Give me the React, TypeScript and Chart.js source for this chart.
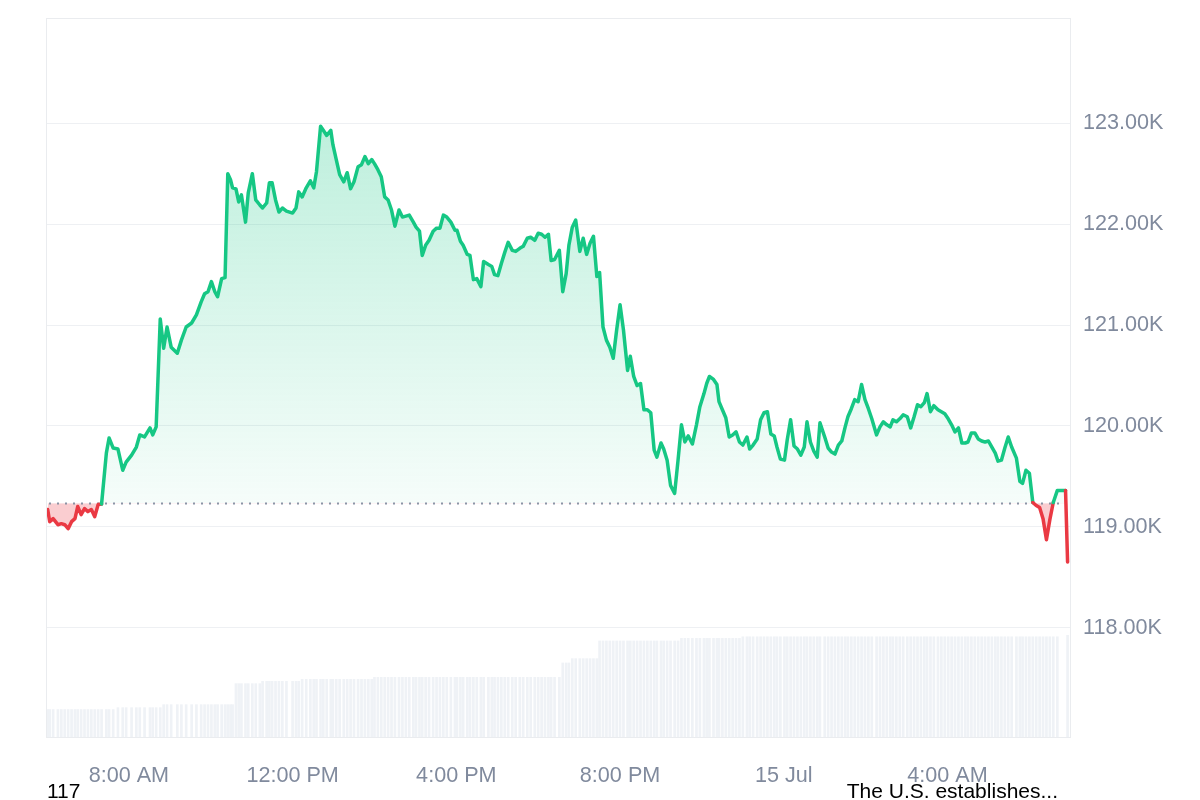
import React, { useEffect, useRef } from 'react';
import { Chart, registerables } from 'chart.js';

Chart.register(...registerables);

// minutes after 06:00 (14 Jul)
const TIMES: number[] = [
  1, 4, 9, 16, 21, 26, 31, 36, 41, 45,
  50, 55, 60, 65, 70, 75, 80, 87, 91, 97,
  104, 111, 116, 124, 131, 136, 143, 151, 155, 160,
  166, 171, 176, 182, 191, 197, 204, 212, 219, 226,
  231, 236, 241, 246, 250, 256, 261, 265, 269, 272,
  277, 281, 285, 291, 295, 301, 306, 312, 316, 322,
  326, 330, 335, 340, 345, 351, 360, 365, 369, 374,
  380, 386, 391, 395, 401, 405, 410, 416, 419, 424,
  429, 435, 440, 445, 450, 456, 461, 466, 471, 476,
  480, 485, 490, 495, 500, 505, 510, 516, 521, 526,
  531, 537, 541, 546, 550, 555, 560, 566, 571, 576,
  581, 586, 592, 598, 601, 606, 610, 616, 620, 625,
  630, 636, 640, 647, 652, 656, 661, 666, 671, 676,
  682, 687, 693, 698, 704, 709, 715, 720, 725, 730,
  735, 739, 744, 751, 756, 761, 765, 770, 775, 781,
  786, 791, 796, 801, 806, 810, 815, 820, 825, 830,
  835, 840, 845, 851, 855, 860, 865, 870, 875, 880,
  885, 890, 894, 900, 904, 909, 914, 920, 925, 930,
  935, 940, 946, 952, 957, 963, 967, 971, 977, 982,
  985, 990, 995, 1000, 1005, 1010, 1015, 1020, 1026, 1030,
  1035, 1041, 1046, 1051, 1056, 1061, 1066, 1070, 1075, 1081,
  1085, 1090, 1095, 1100, 1105, 1110, 1114, 1119, 1124, 1129,
  1133, 1140, 1145, 1150, 1155, 1160, 1165, 1170, 1174, 1179,
  1184, 1189, 1194, 1199, 1204, 1209, 1216, 1221, 1226, 1231,
  1236, 1240, 1245, 1250, 1255, 1261, 1266, 1271, 1276, 1281,
  1286, 1290, 1295, 1300, 1306, 1311, 1316, 1321, 1326, 1331,
  1336, 1341, 1346, 1350, 1355, 1360, 1365, 1370, 1375, 1380,
  1385, 1390, 1394, 1399, 1404, 1409, 1414, 1421, 1426, 1430,
  1435, 1440, 1445, 1450, 1455, 1460, 1465, 1470, 1475, 1481,
  1487, 1493, 1496,
];

const PRICES: number[] = [
  119170, 119050, 119080, 119020, 119030, 119020, 118980, 119050, 119080, 119200,
  119120, 119180, 119150, 119170, 119100, 119220, 119225, 119730, 119880, 119780,
  119770, 119560, 119640, 119710, 119790, 119910, 119890, 119980, 119910, 119990,
  121060, 120770, 120980, 120780, 120720, 120850, 120980, 121020, 121100, 121230,
  121310, 121330, 121430, 121330, 121280, 121460, 121470, 122500, 122440, 122360,
  122350, 122220, 122290, 122020, 122310, 122500, 122240, 122190, 122160, 122210,
  122410, 122410, 122240, 122120, 122160, 122130, 122110, 122160, 122320, 122270,
  122360, 122430, 122360, 122520, 122970, 122930, 122880, 122930, 122790, 122640,
  122490, 122420, 122510, 122350, 122420, 122570, 122590, 122670, 122600, 122640,
  122600, 122540, 122470, 122270, 122240, 122140, 121980, 122140, 122070, 122080,
  122090, 122020, 121970, 121930, 121690, 121790, 121840, 121930, 121960, 121960,
  122090, 122070, 122020, 121940, 121940, 121830, 121790, 121700, 121690, 121450,
  121460, 121380, 121630, 121600, 121580, 121500, 121490, 121610, 121720, 121820,
  121740, 121730, 121760, 121780, 121860, 121870, 121840, 121910, 121900, 121870,
  121900, 121640, 121650, 121740, 121330, 121510, 121790, 121970, 122040, 121730,
  121860, 121700, 121810, 121880, 121480, 121520, 120980, 120850, 120780, 120670,
  120950, 121200, 120950, 120550, 120690, 120490, 120400, 120420, 120160, 120160,
  120130, 119760, 119690, 119830, 119770, 119660, 119410, 119330, 119660, 120010,
  119840, 119900, 119820, 120010, 120190, 120320, 120420, 120490, 120460, 120410,
  120240, 120160, 120080, 119890, 119910, 119940, 119840, 119810, 119890, 119770,
  119810, 119870, 120060, 120130, 120140, 119920, 119900, 119790, 119670, 119660,
  119860, 120060, 119800, 119770, 119710, 119790, 120040, 119840, 119750, 119690,
  120030, 119890, 119780, 119740, 119720, 119810, 119850, 119990, 120090, 120170,
  120260, 120240, 120410, 120260, 120170, 120070, 119910, 119990, 120040, 120010,
  119990, 120060, 120040, 120070, 120110, 120090, 119980, 120090, 120210, 120190,
  120230, 120320, 120140, 120200, 120160, 120140, 120120, 120070, 120010, 119940,
  119980, 119830, 119830, 119840, 119930, 119930, 119870, 119850, 119840, 119850,
  119790, 119730, 119650, 119660, 119780, 119890, 119790, 119680, 119450, 119430,
  119560, 119530, 119240, 119210, 119190, 119080, 118870, 119070, 119240, 119360,
  119360, 119360, 118650,
];

// 24h volume, $B
const VOLUMES: (number | null)[] = [
  19.1, 19.1, 19.1, 19.1, 19.1, 19.1, 19.1, 19.1, 19.1, 19.1,
  19.1, 19.1, 19.1, 19.1, 19.1, 19.1, 19.1, 19.1, 19.1, 19.1,
  20.4, 20.4, 20.4, 20.4, 20.4, 20.4, 20.4, 20.4, 20.4, 20.4,
  20.4, 22.5, 22.5, 22.5, 22.5, 22.5, 22.5, 22.5, 22.5, 22.5,
  22.5, 22.5, 22.5, 22.5, 22.5, 22.5, 22.5, 22.5, 22.5, 22.5,
  37.1, 37.1, 37.1, 37.1, 37.1, 37.1, 37.1, 37.1, 38.7, 38.7,
  38.7, 38.7, 38.7, 38.7, 38.7, 38.7, 38.7, 38.7, 38.7, 40.1,
  40.1, 40.1, 40.1, 40.1, 40.1, 40.1, 40.1, 40.1, 40.1, 40.1,
  40.1, 40.1, 40.1, 40.1, 40.1, 40.1, 40.1, 40.1, 40.1, 40.1,
  41.5, 41.5, 41.5, 41.5, 41.5, 41.5, 41.5, 41.5, 41.5, 41.5,
  41.5, 41.5, 41.5, 41.5, 41.5, 41.5, 41.5, 41.5, 41.5, 41.5,
  41.5, 41.5, 41.5, 41.5, 41.5, 41.5, 41.5, 41.5, 41.5, 41.5,
  41.5, 41.5, 41.5, 41.5, 41.5, 41.5, 41.5, 41.5, 41.5, 41.5,
  41.5, 41.5, 41.5, 41.5, 41.5, 41.5, 41.5, 41.5, 41.5, 41.5,
  41.5, 41.5, 41.5, 41.5, 51.5, 51.5, 51.5, 54.5, 54.5, 54.5,
  54.5, 54.5, 54.5, 54.5, 54.5, 66.8, 66.8, 66.8, 66.8, 66.8,
  66.8, 66.8, 66.8, 66.8, 66.8, 66.8, 66.8, 66.8, 66.8, 66.8,
  66.8, 66.8, 66.8, 66.8, 66.8, 66.8, 66.8, 66.8, 66.8, 68.6,
  68.6, 68.6, 68.6, 68.6, 68.6, 68.6, 68.6, 68.6, 68.6, 68.6,
  68.6, 68.6, 68.6, 68.6, 68.6, 68.6, 68.6, 69.7, 69.7, 69.7,
  69.7, 69.7, 69.7, 69.7, 69.7, 69.7, 69.7, 69.7, 69.7, 69.7,
  69.7, 69.7, 69.7, 69.7, 69.7, 69.7, 69.7, 69.7, 69.7, 69.7,
  69.7, 69.7, 69.7, 69.7, 69.7, 69.7, 69.7, 69.7, 69.7, 69.7,
  69.7, 69.7, 69.7, 69.7, 69.7, 69.7, 69.7, 69.7, 69.7, 69.7,
  69.7, 69.7, 69.7, 69.7, 69.7, 69.7, 69.7, 69.7, 69.7, 69.7,
  69.7, 69.7, 69.7, 69.7, 69.7, 69.7, 69.7, 69.7, 69.7, 69.7,
  69.7, 69.7, 69.7, 69.7, 69.7, 69.7, 69.7, 69.7, 69.7, 69.7,
  69.7, 69.7, 69.7, 69.7, 69.7, 69.7, 69.7, 69.7, 69.7, 69.7,
  69.7, 69.7, 69.7, 69.7, 69.7, 69.7, 69.7, 69.7, 69.7, 69.7,
  null, null, 70.7,
];

const BASE_PRICE = 119232;
const X_TICKS = [120, 360, 600, 840, 1080, 1320];
const X_TICK_LABELS = ['8:00 AM', '12:00 PM', '4:00 PM', '8:00 PM', '15 Jul', '4:00 AM'];
const Y_TICKS = [118000, 119000, 120000, 121000, 122000, 123000];
const NEWS_COUNT = '117';
const NEWS_HEADLINE = 'The U.S. establishes...';

const GREEN = '#16c784';
const RED = '#ea3943';
const LABEL_COLOR = '#808a9d';
const FONT_FAMILY = '"Liberation Sans", Arial, Helvetica, sans-serif';

export default function App() {
  const canvasRef = useRef<HTMLCanvasElement | null>(null);

  useEffect(() => {
    const canvas = canvasRef.current;
    if (!canvas) return;

    const framePlugin = {
      id: 'frame',
      beforeDatasetsDraw(chart: any) {
        const { ctx, chartArea: a } = chart;
        ctx.save();
        ctx.strokeStyle = '#eaecef';
        ctx.lineWidth = 1;
        ctx.strokeRect(Math.round(a.left) - 0.5, Math.round(a.top) + 0.5, Math.round(a.right - a.left), Math.round(a.bottom - a.top));
        ctx.restore();
      },
      beforeDatasetDraw(chart: any, args: any) {
        if (args.index !== 0) return;
        const { ctx, chartArea: a, scales } = chart;
        const y = Math.round(scales.y.getPixelForValue(BASE_PRICE)) + 0.5;
        ctx.save();
        ctx.strokeStyle = 'rgba(128,138,157,0.9)';
        ctx.lineWidth = 2;
        ctx.setLineDash([2, 6]);
        ctx.beginPath();
        ctx.moveTo(a.left + 2, y);
        ctx.lineTo(a.right, y);
        ctx.stroke();
        ctx.restore();
      },
    };

    const font = { family: FONT_FAMILY, size: 21.6 };

    const chart = new Chart(canvas, {
      type: 'line',
      data: {
        datasets: [
          {
            type: 'line',
            data: TIMES.map((t, i) => ({ x: t, y: PRICES[i] })),
            xAxisID: 'x',
            yAxisID: 'y',
            borderColor: GREEN,
            borderWidth: 3.5,
            borderJoinStyle: 'round',
            borderCapStyle: 'round',
            pointRadius: 0,
            tension: 0,
            fill: { target: { value: BASE_PRICE }, below: 'rgba(234,57,67,0.25)' },
            backgroundColor: (c: any) => {
              const ch = c.chart;
              if (!ch.chartArea || !ch.scales.y) return 'rgba(22,199,132,0.12)';
              const top = ch.scales.y.getPixelForValue(Math.max(...PRICES));
              const bot = ch.scales.y.getPixelForValue(BASE_PRICE);
              const g = ch.ctx.createLinearGradient(0, top, 0, bot);
              g.addColorStop(0, 'rgba(22,199,132,0.28)');
              g.addColorStop(1, 'rgba(22,199,132,0.04)');
              return g;
            },
            segment: {
              borderColor: (c: any) => ((c.p0.parsed.y + c.p1.parsed.y) / 2 < BASE_PRICE ? RED : GREEN),
            },
          } as any,
          {
            type: 'bar',
            data: TIMES.map((t, i) => ({ x: t, y: VOLUMES[i] })),
            xAxisID: 'x',
            yAxisID: 'yVol',
            backgroundColor: '#eff2f6',
            borderWidth: 0,
            barThickness: 2,
          } as any,
        ],
      },
      options: {
        animation: false,
        responsive: false,
        devicePixelRatio: 1,
        layout: { padding: { left: 47, top: 18, right: 0, bottom: 0 } },
        plugins: { legend: { display: false }, tooltip: { enabled: false } },
        scales: {
          x: {
            type: 'linear',
            offset: false,
            min: 0,
            max: 1501,
            grid: { display: false, offset: false },
            border: { display: false },
            afterBuildTicks: (s: any) => {
              s.ticks = X_TICKS.map((v) => ({ value: v }));
            },
            afterFit: (s: any) => {
              s.height = 63;
              s.paddingLeft = 0;
              s.paddingRight = 0;
            },
            ticks: {
              autoSkip: false,
              maxRotation: 0,
              minRotation: 0,
              padding: 18,
              color: LABEL_COLOR,
              font,
              callback: (v: any) => {
                const i = X_TICKS.indexOf(Number(v));
                return i >= 0 ? X_TICK_LABELS[i] : '';
              },
            },
          },
          y: {
            type: 'linear',
            position: 'right',
            min: 116915,
            max: 124044,
            grid: { color: '#eef0f3', drawTicks: false, lineWidth: 1 },
            border: { display: false },
            afterBuildTicks: (s: any) => {
              s.ticks = Y_TICKS.map((v) => ({ value: v }));
            },
            afterFit: (s: any) => {
              s.width = 129;
              s.paddingTop = 0;
              s.paddingBottom = 0;
            },
            ticks: {
              padding: 12,
              color: LABEL_COLOR,
              font,
              callback: (v: any) => (Number(v) / 1000).toFixed(2) + 'K',
            },
          },
          yVol: {
            type: 'linear',
            display: false,
            min: 0,
            max: 500,
          },
        },
      } as any,
      plugins: [framePlugin],
    });

    return () => {
      chart.destroy();
    };
  }, []);

  const textStyle: React.CSSProperties = {
    position: 'absolute',
    top: 780,
    fontFamily: FONT_FAMILY,
    fontSize: 21,
    lineHeight: '21px',
    color: '#000',
    whiteSpace: 'nowrap',
  };

  return (
    <div style={{ position: 'fixed', left: 0, top: 0, width: 1200, height: 800, background: '#fff', overflow: 'hidden' }}>
      <canvas ref={canvasRef} width={1200} height={800} style={{ position: 'absolute', left: 0, top: 0, width: 1200, height: 800 }} />
      <div style={{ ...textStyle, left: 47 }}>{NEWS_COUNT}</div>
      <div style={{ ...textStyle, right: 142, textAlign: 'right' }}>{NEWS_HEADLINE}</div>
    </div>
  );
}
